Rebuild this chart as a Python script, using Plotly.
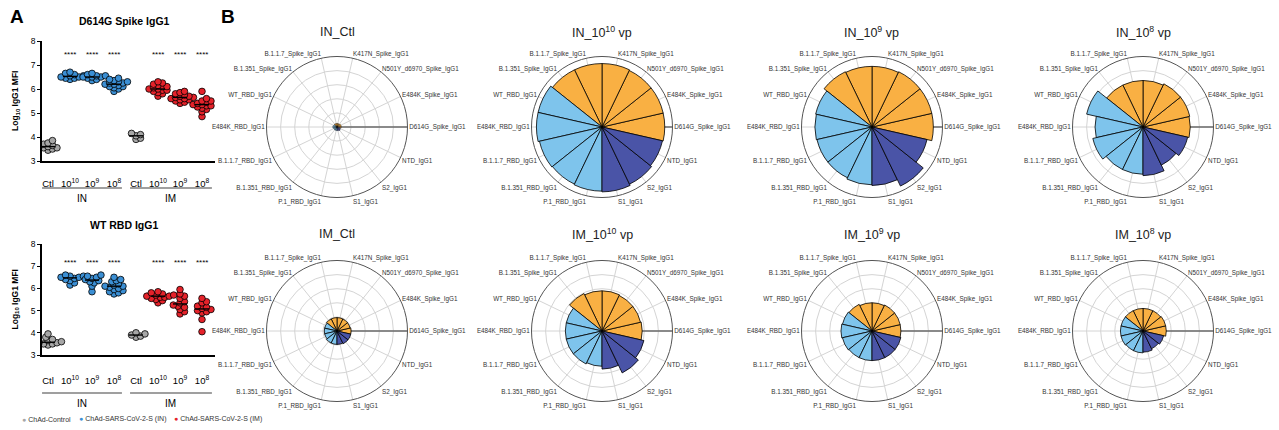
import numpy as np
import plotly.graph_objects as go

W, H = 1279, 430
FONT = "Liberation Sans, Arial, sans-serif"

# ---------------- Panel A data ----------------
group_labels = ["Ctl", "10<sup>10</sup>", "10<sup>9</sup>", "10<sup>8</sup>",
                "Ctl", "10<sup>10</sup>", "10<sup>9</sup>", "10<sup>8</sup>"]
group_kind = ["ctl", "in", "in", "in", "ctl", "im", "im", "im"]
route_labels = ["IN", "IM"]

d614g_in_ctl = [3.45, 3.5, 3.55, 3.55, 3.6, 3.6, 3.65, 3.7, 3.75, 3.85]
d614g_in_1e10 = [6.4, 6.45, 6.45, 6.5, 6.5, 6.55, 6.55, 6.6, 6.65, 6.7]
d614g_in_1e9 = [6.35, 6.4, 6.45, 6.5, 6.5, 6.5, 6.55, 6.55, 6.6, 6.65]
d614g_in_1e8 = [5.9, 6.0, 6.05, 6.1, 6.1, 6.15, 6.2, 6.2, 6.25, 6.25, 6.3, 6.3, 6.35, 6.4, 6.45]
d614g_im_ctl = [3.9, 3.95, 4.05, 4.1, 4.15]
d614g_im_1e10 = [5.7, 5.8, 5.85, 5.9, 5.95, 5.95, 6.0, 6.0, 6.05, 6.1, 6.1, 6.15, 6.2, 6.25, 6.3]
d614g_im_1e9 = [5.4, 5.45, 5.5, 5.55, 5.55, 5.6, 5.6, 5.65, 5.65, 5.7, 5.7, 5.75, 5.8, 5.85, 5.9]
d614g_im_1e8 = [4.85, 5.05, 5.15, 5.2, 5.25, 5.3, 5.3, 5.35, 5.35, 5.4, 5.45, 5.5, 5.5, 5.6, 5.9]

rbd_in_ctl = [3.45, 3.5, 3.5, 3.55, 3.55, 3.6, 3.65, 3.7, 3.8, 3.95]
rbd_in_1e10 = [6.15, 6.25, 6.35, 6.4, 6.45, 6.5, 6.5, 6.55, 6.55, 6.6]
rbd_in_1e9 = [5.85, 6.1, 6.25, 6.3, 6.35, 6.4, 6.45, 6.5, 6.55, 6.6]
rbd_in_1e8 = [5.75, 5.8, 5.85, 5.9, 5.95, 6.0, 6.05, 6.1, 6.1, 6.15, 6.2, 6.3, 6.35, 6.4, 6.5]
rbd_im_ctl = [3.8, 3.85, 3.9, 3.95, 4.0]
rbd_im_1e10 = [5.35, 5.45, 5.5, 5.55, 5.6, 5.6, 5.65, 5.65, 5.7, 5.7, 5.75, 5.8, 5.85]
rbd_im_1e9 = [4.85, 4.95, 5.05, 5.15, 5.2, 5.25, 5.35, 5.4, 5.55, 5.65, 5.75, 5.95]
rbd_im_1e8 = [4.05, 4.6, 4.9, 4.95, 5.0, 5.05, 5.1, 5.15, 5.2, 5.35, 5.4, 5.55]

d614g_groups = [d614g_in_ctl, d614g_in_1e10, d614g_in_1e9, d614g_in_1e8,
                d614g_im_ctl, d614g_im_1e10, d614g_im_1e9, d614g_im_1e8]
rbd_groups = [rbd_in_ctl, rbd_in_1e10, rbd_in_1e9, rbd_in_1e8,
              rbd_im_ctl, rbd_im_1e10, rbd_im_1e9, rbd_im_1e8]

# ---------------- Panel B data ----------------
antigens = ["D614G_Spike_IgG1", "E484K_Spike_IgG1", "N501Y_d6970_Spike_IgG1", "K417N_Spike_IgG1",
            "B.1.1.7_Spike_IgG1", "B.1.351_Spike_IgG1", "WT_RBD_IgG1", "E484K_RBD_IgG1",
            "B.1.1.7_RBD_IgG1", "B.1.351_RBD_IgG1", "P.1_RBD_IgG1", "S1_IgG1", "S2_IgG1", "NTD_IgG1"]
antigen_group = ["spike"] * 6 + ["rbd"] * 5 + ["sub"] * 3

radar_titles = ["IN_Ctl", "IN_10<sup>10</sup> vp", "IN_10<sup>9</sup> vp", "IN_10<sup>8</sup> vp",
                "IM_Ctl", "IM_10<sup>10</sup> vp", "IM_10<sup>9</sup> vp", "IM_10<sup>8</sup> vp"]
in_ctl = [0.06, 0.06, 0.05, 0.05, 0.05, 0.05, 0.05, 0.06, 0.05, 0.05, 0.05, 0.05, 0.06, 0.05]
in_1e10 = [0.89, 0.89, 0.89, 0.9, 0.9, 0.9, 0.93, 0.93, 0.91, 0.9, 0.91, 0.92, 0.9, 0.88]
in_1e9 = [0.87, 0.87, 0.87, 0.86, 0.86, 0.87, 0.82, 0.81, 0.8, 0.8, 0.82, 0.83, 0.93, 0.8]
in_1e8 = [0.67, 0.68, 0.68, 0.66, 0.66, 0.66, 0.82, 0.68, 0.73, 0.67, 0.67, 0.69, 0.6, 0.65]
im_ctl = [0.2, 0.19, 0.19, 0.19, 0.19, 0.19, 0.18, 0.18, 0.18, 0.19, 0.19, 0.19, 0.2, 0.2]
im_1e10 = [0.57, 0.56, 0.56, 0.57, 0.57, 0.59, 0.52, 0.52, 0.52, 0.52, 0.5, 0.54, 0.66, 0.61]
im_1e9 = [0.41, 0.41, 0.41, 0.4, 0.4, 0.42, 0.43, 0.44, 0.43, 0.42, 0.42, 0.42, 0.42, 0.42]
im_1e8 = [0.33, 0.33, 0.32, 0.32, 0.32, 0.32, 0.32, 0.32, 0.32, 0.31, 0.31, 0.3, 0.28, 0.3]
radar_values = [in_ctl, in_1e10, in_1e9, in_1e8, im_ctl, im_1e10, im_1e9, im_1e8]

# ---------------- styles ----------------
kind_color = {"ctl": "#A7A7A7", "in": "#3B8FD4", "im": "#E5222A"}
ant_color = {"spike": "#F9B043", "rbd": "#7EC4EC", "sub": "#4A54A7"}


def px_x(p):
    return p / W


def px_y(p):
    return 1 - p / H


def ann(x, y, text, size, color="black", xref="paper", yref="paper", xanchor="center", **kw):
    return dict(x=x, y=y, xref=xref, yref=yref, text=text, showarrow=False,
                xanchor=xanchor, yanchor="middle",
                font=dict(size=size, color=color, family=FONT), **kw)


def swarm(vals, xs_px, ys_px, diam=6.4):
    vals = np.asarray(vals, float)
    order = np.argsort(vals)
    placed = []
    offs = np.zeros(len(vals))
    cands = [0.0]
    for k in range(1, 30):
        cands += [k * diam * 0.35, -k * diam * 0.35]
    for i in order:
        y = vals[i] * ys_px
        for c in cands:
            if all((c - a) ** 2 + (y - b) ** 2 >= (diam * 0.55) ** 2 for a, b in placed):
                break
        placed.append((c, y))
        offs[i] = c / xs_px
    return offs


fig = go.Figure()
annotations = []
shapes = []

panels = [
    dict(groups=d614g_groups, xa="x", ya="y", top=41, bot=161, title="D614G Spike IgG1",
         title_y=21, star_y=7.42, line_y=188, route_y=198, standoff=13),
    dict(groups=rbd_groups, xa="x2", ya="y2", top=244, bot=355, title="WT RBD IgG1",
         title_y=225, star_y=7.17, line_y=393, route_y=403, standoff=16),
]
XL, XR, X0, XS = 42, 215, 48, 22.0
xrange = [(XL - X0) / XS, (XR - X0) / XS]

for pi, p in enumerate(panels):
    ys_px = (p["bot"] - p["top"]) / 5.0
    for gi, vals in enumerate(p["groups"]):
        kind = group_kind[gi]
        offs = swarm(vals, XS, ys_px)
        fig.add_trace(go.Scatter(
            x=gi + offs, y=vals, mode="markers", xaxis=p["xa"], yaxis=p["ya"],
            marker=dict(size=6.6, color=kind_color[kind], line=dict(color="black", width=0.8)),
            showlegend=False, hoverinfo="skip"))
        med = float(np.median(vals))
        fig.add_trace(go.Scatter(
            x=[gi - 0.32, gi + 0.32], y=[med, med], mode="lines", xaxis=p["xa"], yaxis=p["ya"],
            line=dict(color="black", width=1.4), showlegend=False, hoverinfo="skip"))
        if kind != "ctl":
            annotations.append(ann(gi, p["star_y"], "****", 8, xref=p["xa"], yref=p["ya"]))
    annotations.append(ann(px_x(124), px_y(p["title_y"]), "<b>%s</b>" % p["title"], 10.5))
    annotations.append(ann(px_x(15), px_y((p["top"] + p["bot"]) / 2), "<b>Log<sub>10</sub> IgG1 MFI</b>",
                           8.5, textangle=-90))
    for ri, (a, b) in enumerate([(-0.27, 3.36), (3.73, 7.45)]):
        shapes.append(dict(type="line", xref=p["xa"], yref="paper", x0=a, x1=b,
                           y0=px_y(p["line_y"]), y1=px_y(p["line_y"]),
                           line=dict(color="#7F7F7F", width=1.5)))
        annotations.append(ann((a + b) / 2, px_y(p["route_y"]), route_labels[ri], 10, xref=p["xa"]))

layout_axes = {}
for pi, p in enumerate(panels):
    sfx = "" if pi == 0 else "2"
    layout_axes["xaxis" + sfx] = dict(
        domain=[px_x(XL), px_x(XR)], range=xrange, anchor="y" + sfx, automargin=False,
        tickmode="array", tickvals=list(range(8)), ticktext=group_labels,
        ticks="", showline=True, linecolor="black", linewidth=1.5, showgrid=False, zeroline=False,
        tickfont=dict(size=9.5, color="black", family=FONT), ticklabelstandoff=p["standoff"])
    layout_axes["yaxis" + sfx] = dict(
        domain=[px_y(p["bot"]), px_y(p["top"])], range=[3, 8], anchor="x" + sfx, automargin=False,
        tickmode="array", tickvals=[3, 4, 5, 6, 7, 8], ticks="outside", ticklen=3, tickwidth=1.3,
        tickcolor="black", showline=True, linecolor="black", linewidth=1.5, showgrid=False,
        zeroline=False, tickfont=dict(size=8.5, color="black", family=FONT))

# ---------------- Panel B ----------------
step = 360.0 / len(antigens)
thetas = [i * step for i in range(len(antigens))]
centers_x = [337, 602, 872, 1143]
centers_y = [127, 331]
title_y = [32, 234]
R = 70.5
polars = {}
for k in range(8):
    row, col = divmod(k, 4)
    cx, cy = centers_x[col], centers_y[row]
    name = "polar" if k == 0 else "polar%d" % (k + 1)
    lw = 0.4 if max(radar_values[k]) < 0.1 else 0.8
    fig.add_trace(go.Barpolar(
        r=radar_values[k], theta=thetas, width=[step] * len(antigens), subplot=name,
        marker=dict(color=[ant_color[g] for g in antigen_group], line=dict(color="black", width=lw)),
        showlegend=False, hoverinfo="skip"))
    polars[name] = dict(
        domain=dict(x=[px_x(cx - R), px_x(cx + R)], y=[px_y(cy + R), px_y(cy - R)]),
        bgcolor="white", hole=0,
        angularaxis=dict(tickmode="array", tickvals=thetas, ticktext=antigens, direction="counterclockwise",
                         rotation=0, thetaunit="degrees", ticks="", showline=True, linecolor="#555555",
                         linewidth=1, gridcolor="#D4D4D4", gridwidth=0.8,
                         tickfont=dict(size=6.3, color="#333333", family=FONT)),
        radialaxis=dict(range=[0, 1], tickvals=[0.2, 0.4, 0.6, 0.8], showticklabels=False, ticks="",
                        showline=True, linecolor="#6A6A6A", linewidth=1.3, angle=0,
                        gridcolor="#D4D4D4", gridwidth=0.8, layer="below traces"))
    annotations.append(ann(px_x(cx), px_y(title_y[row]), radar_titles[k], 12.5, color="#222222"))

annotations.append(ann(px_x(17), px_y(16), "<b>A</b>", 19))
annotations.append(ann(px_x(228), px_y(16), "<b>B</b>", 19))

# legend (drawn as text)
legend_items = [("ChAd-Control", "ctl", 20), ("ChAd-SARS-CoV-2-S (IN)", "in", 77),
                ("ChAd-SARS-CoV-2-S (IM)", "im", 172)]
for txt, kind, xp in legend_items:
    annotations.append(ann(px_x(xp), px_y(419),
                           "<span style='color:%s'>●</span> %s" % (kind_color[kind], txt),
                           7, color="#333333", xanchor="left"))

fig.update_layout(
    template="none",
    width=W, height=H, margin=dict(l=0, r=0, t=0, b=0, pad=0, autoexpand=False),
    paper_bgcolor="white", plot_bgcolor="white", showlegend=False,
    font=dict(family=FONT), annotations=annotations, shapes=shapes,
    **layout_axes, **polars)

fig.write_html("out.html", config={"displayModeBar": False},
               post_script="document.body.style.margin='0px';")
